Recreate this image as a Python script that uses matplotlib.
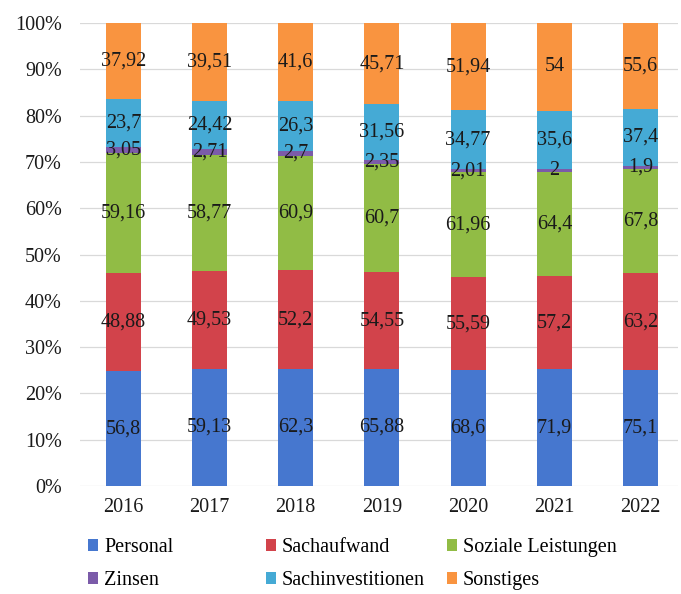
import numpy as np
import matplotlib.pyplot as plt
from matplotlib.ticker import PercentFormatter

years = ["2016", "2017", "2018", "2019", "2020", "2021", "2022"]
personal = [56.8, 59.13, 62.3, 65.88, 68.6, 71.9, 75.1]
sachaufwand = [48.88, 49.53, 52.2, 54.55, 55.59, 57.2, 63.2]
soziale = [59.16, 58.77, 60.9, 60.7, 61.96, 64.4, 67.8]
zinsen = [3.05, 2.71, 2.7, 2.35, 2.01, 2, 1.9]
sachinv = [23.7, 24.42, 26.3, 31.56, 34.77, 35.6, 37.4]
sonstiges = [37.92, 39.51, 41.6, 45.71, 51.94, 54, 55.6]

names = ["Personal", "Sachaufwand", "Soziale Leistungen", "Zinsen",
         "Sachinvestitionen", "Sonstiges"]
series = [personal, sachaufwand, soziale, zinsen, sachinv, sonstiges]
colors = ["#4677CF", "#D2434B", "#91BC45", "#7B5BA9", "#45AAD5", "#F99440"]

plt.rcParams['font.family'] = ['Liberation Serif', 'DejaVu Serif']
fs = 14.5

data = np.array(series, dtype=float)
shares = data / data.sum(axis=0) * 100

fig = plt.figure(figsize=(6.81, 5.94), dpi=100)
ax = fig.add_axes([80 / 681, 108 / 594, 598 / 681, 463 / 594])

x = np.arange(len(years))
bottom = np.zeros(len(years))
bars = []
for name, vals, share, col in zip(names, series, shares, colors):
    b = ax.bar(x, share, 0.406, bottom=bottom, color=col, label=name, zorder=2)
    bars.append(b)
    for xi, b0, s, v in zip(x, bottom, share, vals):
        ax.text(xi, b0 + s / 2, f"{v:g}".replace(".", ","), ha="center",
                va="center", fontsize=fs, color="#1a1a1a", zorder=3)
    bottom += share

ax.set_ylim(0, 100)
ax.set_xlim(-0.503, 6.435)
ax.set_yticks(np.arange(0, 101, 10))
ax.yaxis.set_major_formatter(PercentFormatter(decimals=0))
ax.set_xticks(x)
ax.set_xticklabels(years)
ax.grid(axis="y", color="#d9d9d9", linewidth=0.9, zorder=0)
for sp in ax.spines.values():
    sp.set_visible(False)
ax.tick_params(length=0, labelsize=fs, colors="#1a1a1a")
ax.tick_params(axis="y", pad=13)
ax.tick_params(axis="x", pad=9)

# legend laid out row by row: three columns of two entries
col_x = [88 / 681, 266 / 681, 447 / 681]
for i, cx in enumerate(col_x):
    leg = fig.legend([bars[i], bars[i + 3]], [names[i], names[i + 3]],
                     loc="center left", bbox_to_anchor=(cx, 0.05),
                     frameon=False, fontsize=fs, handlelength=0.5,
                     handleheight=0.5, handletextpad=0.3, labelspacing=0.7,
                     borderpad=0, borderaxespad=0)
    leg.set_zorder(5)

fig.savefig("out.png", dpi=100)
